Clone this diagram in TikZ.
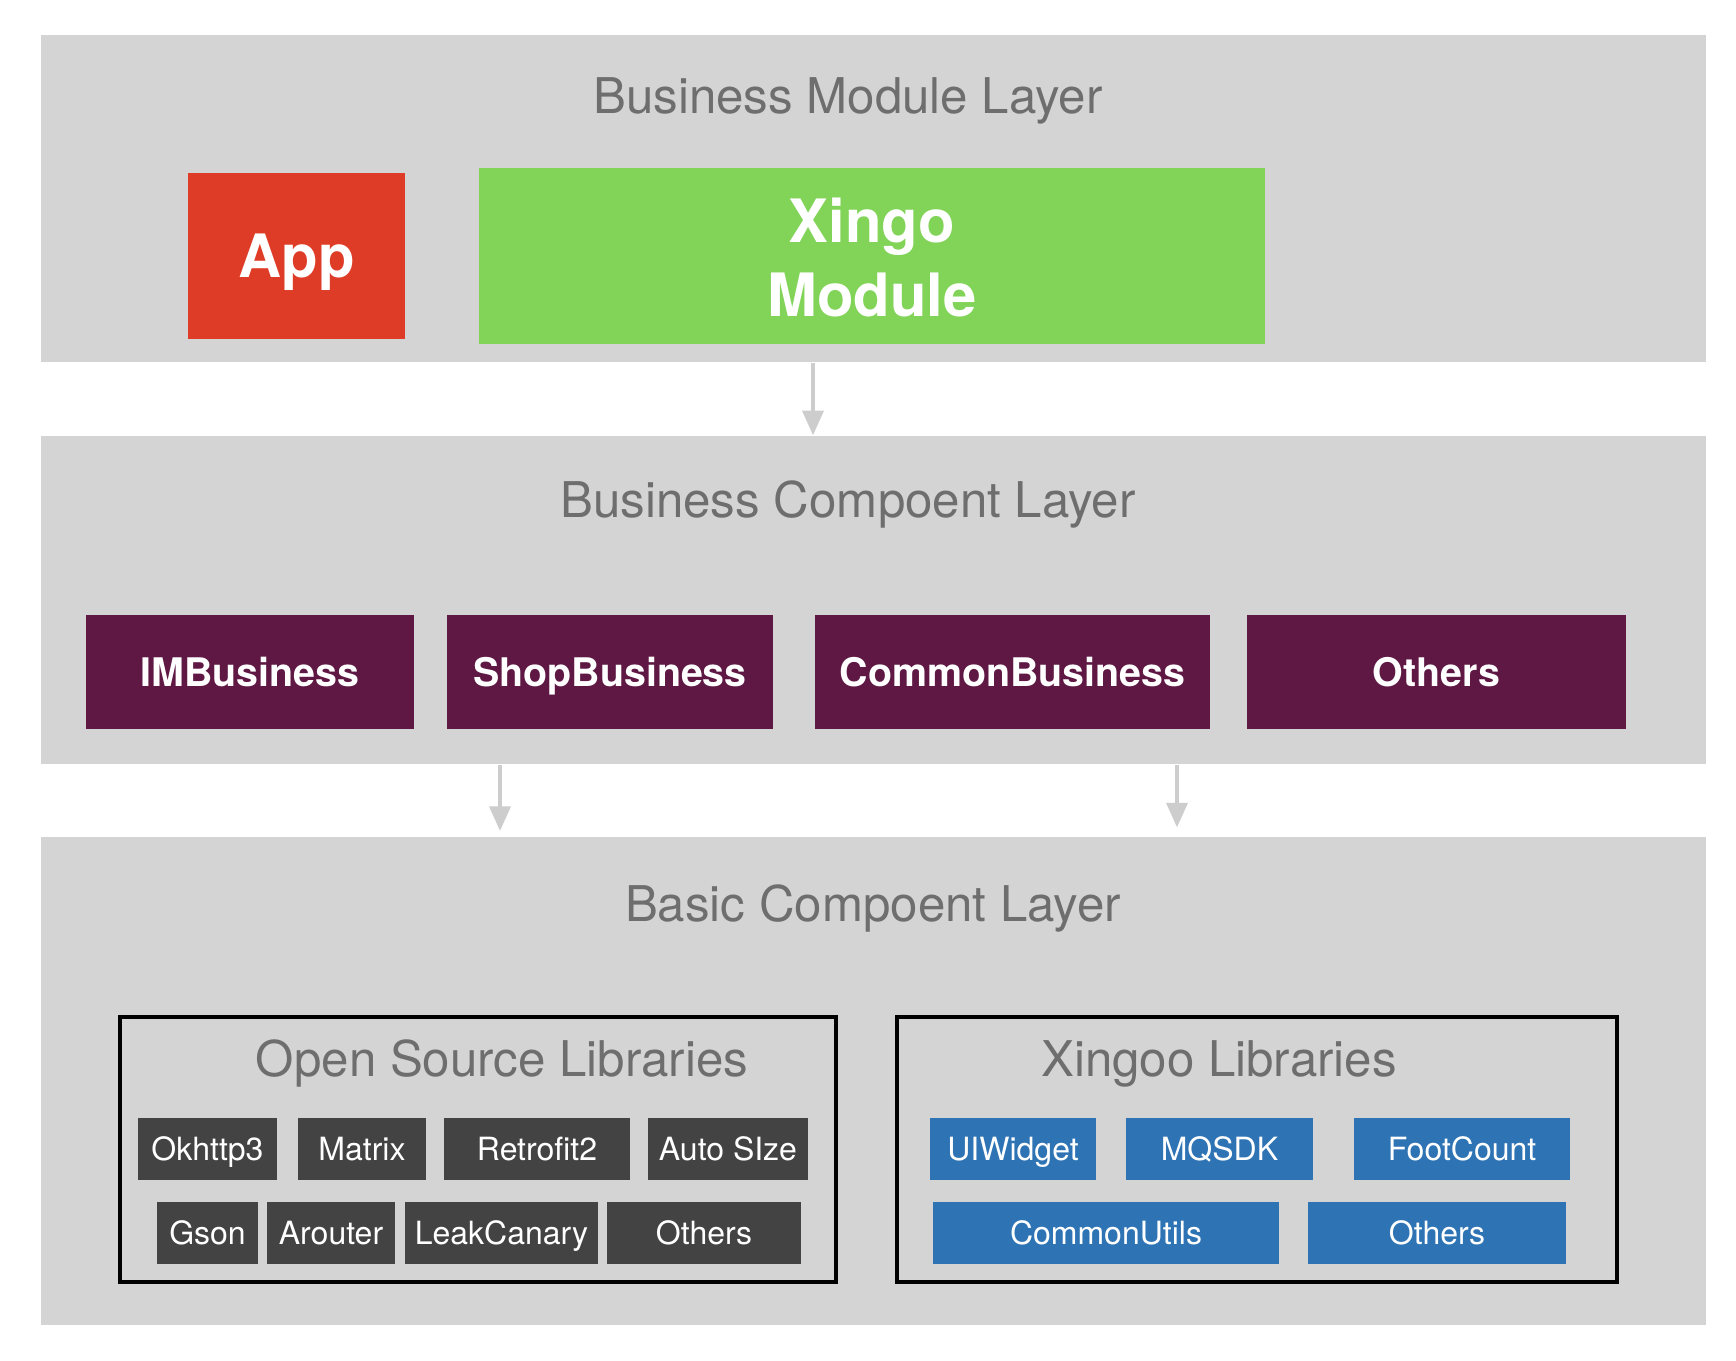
\documentclass[tikz,border=0pt]{standalone}
\usepackage{fontspec}
\setmainfont{TeX Gyre Heros}
\usetikzlibrary{arrows.meta}

\definecolor{capa}{HTML}{D4D4D4}
\definecolor{titulo}{HTML}{6E6E6E}
\definecolor{rojo}{HTML}{DE3C26}
\definecolor{verde}{HTML}{81D458}
\definecolor{morado}{HTML}{5E1843}
\definecolor{oscuro}{HTML}{434343}
\definecolor{azul}{HTML}{2E74B5}
\definecolor{flecha}{HTML}{CDCDCD}

\begin{document}
\begin{tikzpicture}[x=0.01cm, y=-0.01cm,
	layer/.style={fill=capa, minimum width=16.64cm, inner sep=0pt},
	title/.style={text=titulo, font=\fontsize{14pt}{17pt}\selectfont, anchor=base, inner sep=0pt},
	bigbox/.style={text=white, font=\bfseries\fontsize{17pt}{20.8pt}\selectfont, align=center, inner sep=0pt, text depth=0pt},
	bizbox/.style={fill=morado, text=white, font=\bfseries\fontsize{11.2pt}{14pt}\selectfont, minimum height=1.14cm, inner sep=0pt, text height=8.06pt, text depth=0pt},
	libframe/.style={draw=black, line width=1.1pt, minimum height=2.65cm, inner sep=0pt},
	libbox/.style={text=white, font=\fontsize{9.1pt}{11pt}\selectfont, minimum height=0.62cm, inner sep=0pt, text height=6.55pt, text depth=0pt},
	arr/.style={draw=flecha, line width=1pt, -{Triangle[length=7pt,width=6pt]}}]

	% Fondo
		\useasboundingbox[fill=white] (0,0) rectangle (1736,1360);

	% Capas
		\node[layer, minimum height=3.27cm] (layer1) at (873,198.5) {};
		\node[layer, minimum height=3.28cm] (layer2) at (873,600) {};
		\node[layer, minimum height=4.88cm] (layer3) at (873,1081) {};

	% Titulos
		\node[title] (t1) at (848,113) {Business Module Layer};
		\node[title] (t2) at (848,517) {Business Compoent Layer};
		\node[title] (t3) at (873,921) {Basic Compoent Layer};

	% Modulos
		\node[bigbox, fill=rojo, minimum width=2.17cm, minimum height=1.66cm, text height=12.24pt] (app) at (296.5,256) {App};
		\node[bigbox, fill=verde, minimum width=7.86cm, minimum height=1.76cm, text height=34.2pt] (xingo) at (872,256) {Xingo\\Module};

	% Componentes de negocio
		\node[bizbox, minimum width=3.28cm] (imb) at (250,672) {IMBusiness};
		\node[bizbox, minimum width=3.26cm] (shopb) at (610,672) {ShopBusiness};
		\node[bizbox, minimum width=3.95cm] (commonb) at (1012.5,672) {CommonBusiness};
		\node[bizbox, minimum width=3.79cm] (bizothers) at (1436.5,672) {Others};

	% Librerias
		\node[libframe, minimum width=7.16cm] (osframe) at (478,1149.5) {};
		\node[libframe, minimum width=7.20cm] (xlframe) at (1257,1149.5) {};
		\node[title] (ostitle) at (502,1076) {Open Source Libraries};
		\node[title] (xltitle) at (1219,1076) {Xingoo Libraries};

	% Open source
		\node[libbox, fill=oscuro, minimum width=1.39cm] (okhttp) at (207.5,1149) {Okhttp3};
		\node[libbox, fill=oscuro, minimum width=1.28cm] (matrix) at (362,1149) {Matrix};
		\node[libbox, fill=oscuro, minimum width=1.86cm] (retrofit) at (537,1149) {Retrofit2};
		\node[libbox, fill=oscuro, minimum width=1.60cm] (autosize) at (728,1149) {Auto SIze};
		\node[libbox, fill=oscuro, minimum width=1.01cm] (gson) at (207.5,1233) {Gson};
		\node[libbox, fill=oscuro, minimum width=1.28cm] (arouter) at (331,1233) {Arouter};
		\node[libbox, fill=oscuro, minimum width=1.93cm] (leak) at (501.5,1233) {LeakCanary};
		\node[libbox, fill=oscuro, minimum width=1.94cm] (osothers) at (704,1233) {Others};

	% Xingoo
		\node[libbox, fill=azul, minimum width=1.66cm] (uiwidget) at (1013,1149) {UIWidget};
		\node[libbox, fill=azul, minimum width=1.87cm] (mqsdk) at (1219.5,1149) {MQSDK};
		\node[libbox, fill=azul, minimum width=2.16cm] (footcount) at (1462,1149) {FootCount};
		\node[libbox, fill=azul, minimum width=3.46cm] (commonutils) at (1106,1233) {CommonUtils};
		\node[libbox, fill=azul, minimum width=2.58cm] (xlothers) at (1437,1233) {Others};

	% Flechas
		\coordinate (f1) at (813,0);
		\coordinate (f2) at (500,0);
		\coordinate (f3) at (1177,0);
		\draw[arr] (layer1.south -| f1) -- (layer2.north -| f1);
		\draw[arr] (layer2.south -| f2) -- ([yshift=1.5pt]layer3.north -| f2);
		\draw[arr] (layer2.south -| f3) -- ([yshift=2.5pt]layer3.north -| f3);
\end{tikzpicture}
\end{document}
